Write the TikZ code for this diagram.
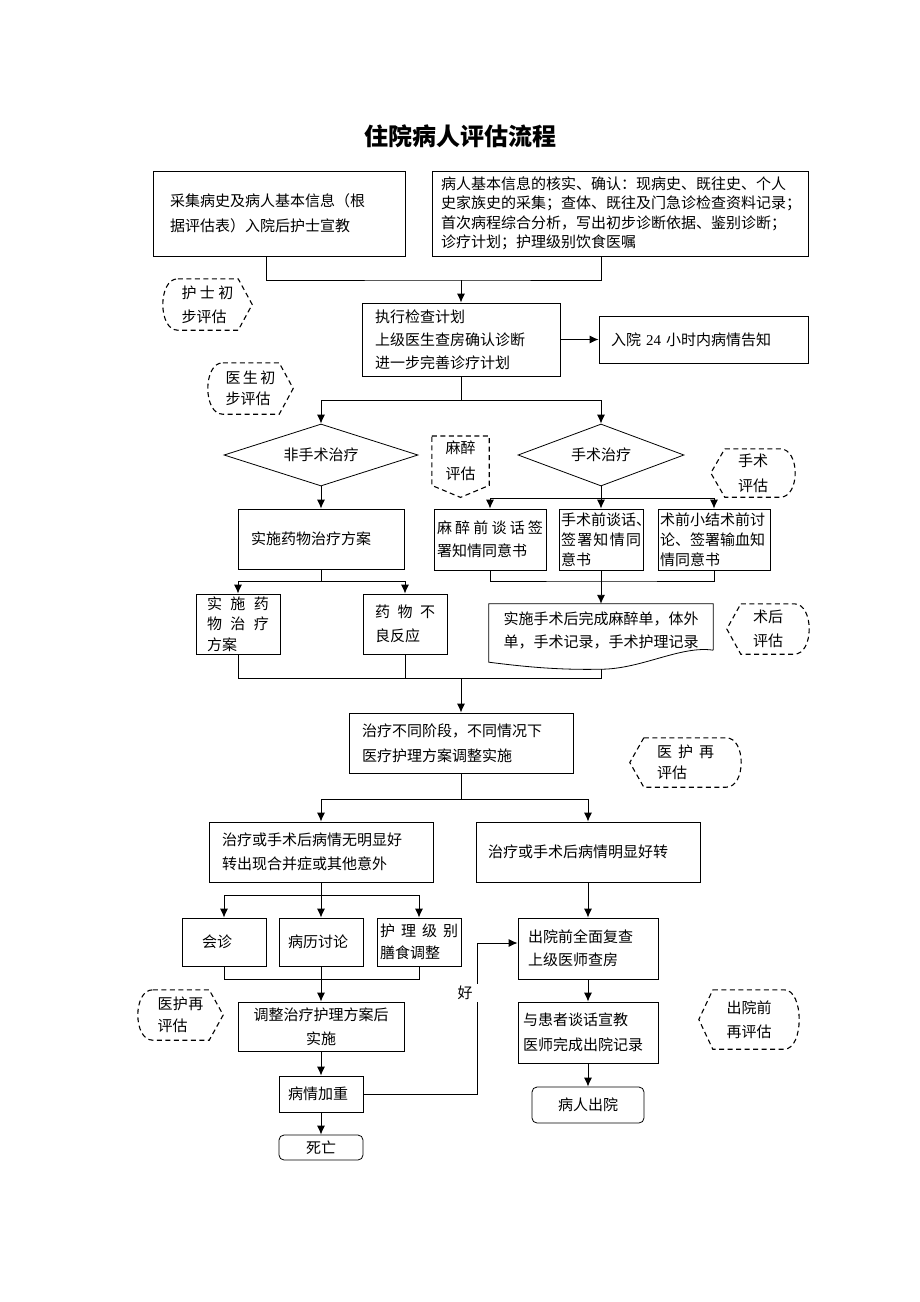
\documentclass[tikz,border=0pt]{standalone}
\usepackage{fontspec}
\setmainfont{Liberation Serif}
\newfontfamily\cjk{Noto Sans CJK SC}
\usetikzlibrary{shapes.geometric, arrows.meta}

\tikzset{
  box/.style = {draw, line width = 0.8pt, align = left, inner ysep = 0pt,
                font = \cjk\fontsize{15pt}{23pt}\selectfont},
  lh/.style = {font = \cjk\fontsize{15pt}{#1}\selectfont},
  dia/.style = {diamond, draw, line width = 0.8pt, inner sep = 0pt, aspect = 3,
                font = \cjk\fontsize{15pt}{20pt}\selectfont},
  evaltxt/.style = {inner sep = 0pt, align = left,
                    font = \cjk\fontsize{15pt}{24pt}\selectfont},
  evalline/.style = {line width = 1.1pt, dash pattern = on 5pt off 3.5pt},
  link/.style = {line width = 0.9pt},
  arr/.style = {line width = 0.9pt, -{Latex[length = 9pt, width = 8pt]}}
}

% dashed evaluation tags: curved on one side, pointed on the other
\newcommand{\evalptr}[1]{%
  \draw [evalline] ([xshift = 15pt]#1.north west) -- ([xshift = -14pt]#1.north east) -- (#1.east)
        -- ([xshift = -14pt]#1.south east) -- ([xshift = 15pt]#1.south west)
        .. controls ([xshift = -5pt]#1.south west) and ([xshift = -5pt]#1.north west) .. ([xshift = 15pt]#1.north west);}
\newcommand{\evalptl}[1]{%
  \draw [evalline] ([xshift = 14pt]#1.north west) -- ([xshift = -15pt]#1.north east)
        .. controls ([xshift = 5pt]#1.north east) and ([xshift = 5pt]#1.south east) .. ([xshift = -15pt]#1.south east)
        -- ([xshift = 14pt]#1.south west) -- (#1.west) -- cycle;}

\begin{document}
\begin{tikzpicture}[x = 1pt, y = -1pt]
  \useasboundingbox [fill = white] (0, 0) rectangle (920, 1302);
  \node [font = \cjk\fontsize{24pt}{28pt}\selectfont\bfseries] (title) at (460, 136) {住院病人评估流程};

  % admission
  \node [box, text width = 218pt, inner xsep = 17pt, minimum height = 85pt, lh = 25pt] (collect) at (279, 213.5)
        {采集病史及病人基本信息（根\\据评估表）入院后护士宣教};
  \node [box, text width = 358pt, inner xsep = 9pt, minimum height = 85pt, lh = 19.5pt] (history) at (620, 213.5)
        {病人基本信息的核实、确认：现病史、既往史、个人\\史家族史的采集；查体、既往及门急诊检查资料记录；\\首次病程综合分析，写出初步诊断依据、鉴别诊断；\\诊疗计划；护理级别饮食医嘱};
  \node [box, text width = 172pt, inner xsep = 13pt, minimum height = 73pt] (exam) at (461, 339.5)
        {执行检查计划\\上级医生查房确认诊断\\进一步完善诊疗计划};
  \node [box, text width = 185pt, inner xsep = 12pt, minimum height = 47pt] (notice) at (703.5, 339.5)
        {入院 {\rmfamily 24} 小时内病情告知};
  \coordinate (join1) at (461, 280);
  \draw [link] ([xshift = -13pt]collect.south) |- (join1) -| ([xshift = -19pt]history.south);
  \draw [arr] (join1) -- (exam);
  \draw [arr] (exam) -- (notice);

  \node [evaltxt, minimum width = 89pt, minimum height = 51pt, text width = 52pt] (nurse) at (207.5, 304.5)
        {护\hfill 士\hfill 初\\步评估};
  \evalptr{nurse}
  \node [evaltxt, minimum width = 85pt, minimum height = 51pt, text width = 50pt, lh = 21pt] (doctor) at (250.5, 388.5)
        {医\hfill 生\hfill 初\\步评估};
  \evalptr{doctor}

  % treatment choice
  \node [dia, minimum width = 194pt, minimum height = 62pt] (nonop) at (321, 455) {非手术治疗};
  \node [dia, minimum width = 166pt, minimum height = 62pt] (op) at (601, 455) {手术治疗};
  \coordinate (split1) at (461, 400);
  \draw [link] (exam) -- (split1);
  \draw [arr] (split1) -| (nonop);
  \draw [arr] (split1) -| (op);

  \node [evaltxt, anchor = north, minimum width = 57pt, minimum height = 49pt, lh = 26pt, align = center] (anes) at (460.5, 436)
        {麻醉\\评估};
  \draw [evalline] (anes.north west) -- (anes.north east) -- (anes.south east) -- ([yshift = -12pt]anes.south)
        -- (anes.south west) -- cycle;
  \node [evaltxt, minimum width = 84pt, minimum height = 48pt, align = center, lh = 25pt] (opeval) at (753, 473)
        {手术\\评估};
  \evalptl{opeval}

  % non-operative branch
  \node [box, text width = 140pt, inner xsep = 13pt, minimum height = 60pt] (drug) at (321, 539) {实施药物治疗方案};
  \draw [arr] (nonop) -- (drug);
  \node [box, text width = 62pt, inner xsep = 11pt, minimum height = 60pt, lh = 20.5pt] (drugplan) at (238, 624)
        {实\hfill 施\hfill 药\\物\hfill 治\hfill 疗\\方案};
  \node [box, text width = 60pt, inner xsep = 12pt, minimum height = 60pt, lh = 24pt] (adverse) at (405, 624)
        {药\hfill 物\hfill 不\\良反应};
  \coordinate (split2) at (321, 581);
  \draw [link] (drug) -- (split2);
  \draw [arr] (split2) -| (drugplan);
  \draw [arr] (split2) -| (adverse);

  % operative branch
  \node [box, text width = 106pt, inner xsep = 3pt, minimum height = 61pt] (anestalk) at (490, 539.5)
        {麻\hfill 醉\hfill 前\hfill 谈\hfill 话\hfill 签\\署知情同意书};
  \node [box, text width = 80pt, inner xsep = 2pt, minimum height = 61pt, lh = 20pt] (optalk) at (601, 539.5)
        {手术前谈话、\\签\hfill 署\hfill 知\hfill 情\hfill 同\\意书};
  \node [box, text width = 108pt, inner xsep = 2pt, minimum height = 61pt, lh = 20pt] (prepsum) at (714, 539.5)
        {术前小结术前讨\\论、签署输血知\\情同意书};
  \coordinate (split3) at (601, 498);
  \draw [link] (op) -- (split3);
  \draw [arr] (split3) -| (anestalk);
  \draw [arr] (split3) -- (optalk);
  \draw [arr] (split3) -| (prepsum);

  \node [inner sep = 0pt, minimum width = 224pt, minimum height = 52pt, align = center, lh = 23pt] (postop) at (601, 630)
        {实施手术后完成麻醉单，体外\\单，手术记录，手术护理记录};
  \coordinate (postopb) at ([yshift = -13pt]postop.south);
  \draw [line width = 0.8pt] ([yshift = 6pt]postop.south east) -- (postop.north east) -- (postop.north west)
        -- ([yshift = -6pt]postop.south west) .. controls +(32, 4) and +(-45, 1) .. (postopb)
        .. controls +(40, 0) and +(-32, -5) .. ([yshift = 6pt]postop.south east);
  \coordinate (join2) at (601, 581);
  \draw [link] (anestalk) |- (join2) -| (prepsum);
  \draw [arr] (optalk) -- (postop);

  \node [evaltxt, minimum width = 82pt, minimum height = 50pt, align = center] (posteval) at (768, 629) {术后\\评估};
  \evalptl{posteval}

  % adjustment
  \coordinate (join3) at (461, 678);
  \draw [link] (drugplan) |- (postopb |- join3) -- (postopb);
  \draw [link] (adverse) -- (adverse |- join3);
  \node [box, text width = 198pt, inner xsep = 13pt, minimum height = 60pt, lh = 25pt] (adjust) at (461, 743)
        {治疗不同阶段，不同情况下\\医疗护理方案调整实施};
  \draw [arr] (join3) -- (adjust);
  \node [evaltxt, minimum width = 111pt, minimum height = 49pt, text width = 57pt, lh = 21pt] (reeval) at (685.5, 762.5)
        {医\hfill 护\hfill 再\\评估};
  \evalptl{reeval}

  \node [box, text width = 198pt, inner xsep = 13pt, minimum height = 60pt, lh = 24pt] (worse) at (321, 852)
        {治疗或手术后病情无明显好\\转出现合并症或其他意外};
  \node [box, text width = 200pt, inner xsep = 12pt, minimum height = 60pt] (better) at (588, 852)
        {治疗或手术后病情明显好转};
  \coordinate (split4) at (461, 799);
  \draw [link] (adjust) -- (split4);
  \draw [arr] (split4) -| (worse);
  \draw [arr] (split4) -| (better);

  % no improvement
  \node [box, text width = 44pt, inner xsep = 20pt, minimum height = 48pt] (consult) at (224, 942) {会诊};
  \node [box, text width = 66pt, inner xsep = 9pt, minimum height = 48pt] (discuss) at (321, 942) {病历讨论};
  \node [box, text width = 78pt, inner xsep = 3pt, minimum height = 48pt, lh = 22pt] (diet) at (419, 942)
        {护\hfill 理\hfill 级\hfill 别\\膳食调整};
  \coordinate (split5) at (321, 895);
  \draw [link] (worse) -- (split5);
  \draw [arr] (split5) -| (consult);
  \draw [arr] (split5) -- (discuss);
  \draw [arr] (split5) -| (diet);
  \coordinate (join5) at (321, 979);
  \draw [link] (consult) |- (join5) -| (diet);

  \node [box, text width = 160pt, inner xsep = 3pt, minimum height = 49pt, lh = 24pt, align = center] (readjust) at (321, 1026.5)
        {调整治疗护理方案后\\实施};
  \draw [arr] (discuss) -- (readjust);
  \node [evaltxt, minimum width = 85pt, minimum height = 50pt, text width = 46pt, lh = 22pt] (reeval2) at (180.5, 1015)
        {医\hfill 护\hfill 再\\评估};
  \evalptr{reeval2}

  \node [box, text width = 66pt, inner xsep = 9pt, minimum height = 36pt] (worsen) at (321, 1094) {病情加重};
  \node [box, rounded corners = 5pt, align = center, text width = 78pt, inner xsep = 3pt, minimum height = 25pt] (death) at (321, 1147.5)
        {死亡};
  \draw [arr] (readjust) -- (worsen);
  \draw [arr] (worsen) -- (death);

  % improvement
  \node [box, text width = 120pt, inner xsep = 10pt, minimum height = 61pt] (recheck) at (588, 948.5)
        {出院前全面复查\\上级医师查房};
  \node [box, text width = 130pt, inner xsep = 5pt, minimum height = 61pt, lh = 25pt] (discharge) at (588, 1032.5)
        {与患者谈话宣教\\医师完成出院记录};
  \node [box, rounded corners = 5pt, align = center, text width = 106pt, inner xsep = 3pt, minimum height = 36pt] (leave) at (588, 1105)
        {病人出院};
  \draw [arr] (better) -- (recheck);
  \draw [arr] (recheck) -- (discharge);
  \draw [arr] (discharge) -- (leave);

  \coordinate (bend) at (477, 943);
  \draw [arr] (worsen) -| (bend) -- (bend -| recheck.west);
  \node [fill = white, inner xsep = 5pt, inner ysep = 2pt, font = \cjk\fontsize{15pt}{18pt}\selectfont] (good) at (465, 993) {好};

  \node [evaltxt, minimum width = 100pt, minimum height = 59pt, align = center] (predis) at (749, 1019.5) {出院前\\再评估};
  \evalptl{predis}
\end{tikzpicture}
\end{document}
